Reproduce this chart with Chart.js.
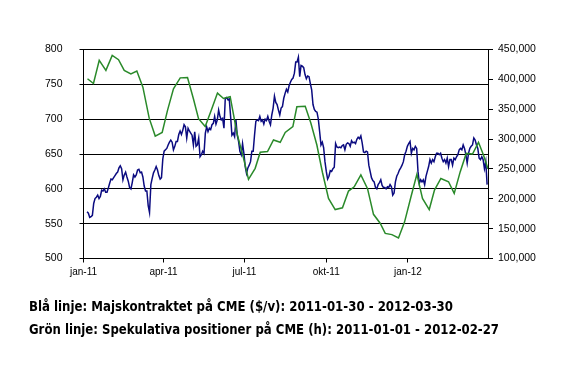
<!DOCTYPE html>
<html>
<head>
<meta charset="utf-8">
<script src="https://cdn.jsdelivr.net/npm/chart.js@4.4.1/dist/chart.umd.min.js"></script>
<style>
  html, body { margin: 0; padding: 0; background: #fff; }
  #wrap { position: relative; width: 571px; height: 371px; overflow: hidden; }
  #c { position: absolute; left: 0; top: 0; }
  .cap { position: absolute; left: 29px; white-space: nowrap; font-family: "Liberation Sans Narrow", "DejaVu Sans Condensed", "Liberation Sans", sans-serif; font-weight: bold; font-size: 14px; line-height: 14px; color: #000; transform-origin: 0 0; }
</style>
</head>
<body>
<div id="wrap">
  <canvas id="c" width="571" height="371"></canvas>
  <div class="cap" id="cap1" data-w="424" style="top:299px">Blå linje: Majskontraktet på CME ($/v): 2011-01-30 - 2012-03-30</div>
  <div class="cap" id="cap2" data-w="470" style="top:321.5px">Grön linje: Spekulativa positioner på CME (h): 2011-01-01 - 2012-02-27</div>
</div>
<script>
// x axis: days since 2011-01-01
const xTickDays = [0, 90, 181, 273, 365];
const xTickLabels = ['jan-11', 'apr-11', 'jul-11', 'okt-11', 'jan-12'];
const xMaxDay = 455;

// Blue line: corn contract on CME ($/bushel), daily, evenly spaced from blueStartDay to blueEndDay
const blueStartDay = 4;
const blueEndDay = 454;
const blueValues = [
  567, 565, 559, 560, 562, 579, 586, 588, 591, 586, 589, 598, 597, 600, 595, 595, 601, 608, 614, 613,
  616, 619, 622, 624, 630, 633, 629, 613, 620, 624, 617, 611, 602, 600, 609, 620, 617, 620, 627, 628,
  623, 624, 617, 604, 597, 597, 576, 566, 606, 615, 623, 627, 632, 627, 619, 614, 616, 643, 654, 656,
  658, 663, 667, 670, 667, 656, 661, 668, 668, 678, 683, 678, 684, 692,
  689, 673, 687, 683, 680, 677, 663, 682, 661, 663, 673, 646, 649, 654, 651, 680, 689, 682, 687, 685,
  692, 694, 704, 693, 699, 713, 704, 699, 701, 687, 730, 731, 728, 729, 704, 677, 680, 675, 699, 677,
  668, 654, 649, 665, 651, 632, 622, 630, 634, 639, 654, 654, 677, 697, 699, 698, 704, 697, 699, 693,
  700, 698, 704, 697, 692, 706, 716, 733, 724, 721, 713, 706, 716, 718, 730, 737,
  743, 739, 748, 753, 757, 759, 766, 782, 782, 789, 761, 777, 776, 774, 764, 758, 762, 761, 751, 742,
  721, 714, 711, 710, 700, 682, 663, 667, 659, 639, 625, 614, 618, 626, 625, 629, 631, 665, 660, 659,
  660, 659, 662, 663, 656, 664, 666, 665, 661, 669, 666, 667, 665, 671, 674, 672, 676, 666, 653, 652,
  654, 653, 634, 625, 616, 612, 610, 602, 600, 606, 609, 613, 605, 602, 602,
  600, 603, 602, 606, 603, 591, 594, 610, 618, 622, 627, 630, 634, 639, 649, 654, 661, 665, 668, 651,
  658, 656, 661, 658, 625, 608, 613, 610, 613, 606, 618, 625, 632, 642, 637, 642, 639, 646, 651, 651,
  649, 651, 644, 639, 642, 637, 644, 632, 642, 642, 634, 644, 642, 646, 649, 656, 658, 656, 663, 658,
  649, 637, 651, 658, 661, 663, 673, 670, 663, 658, 644, 642, 646, 642, 629, 639, 606
];

// Green line: speculative positions on CME (contracts), weekly
const greenDays = [
  4.5, 11.2, 17.7, 25.2, 32.3, 39.4, 45.8, 53.3, 60, 66.8,
  73.9, 80.7, 88.5, 94.5, 101.2, 108.8, 117, 123.7, 129.4, 136.9,
  143.6, 150.7, 157.5, 165, 172.6, 180, 185.6, 193.1, 198.8, 207,
  213.7, 221.3, 226.9, 235.5, 240, 249.4, 255.8, 262.5, 268.8, 275.6,
  283.1, 291.3, 298.1, 304.5, 312, 319.5, 326.2, 333.7, 339.4, 346.9,
  354.3, 361.1, 368.3, 375, 381.3, 388.9, 394.8, 402, 410.6, 417,
  423.7, 430.5, 437.6, 444.3, 450, 455
];
const greenValues = [
  401000, 393000, 432000, 415000, 440000, 433000, 415000, 409000, 414000, 387000,
  335000, 305000, 311000, 348000, 384000, 402500, 403000, 367000, 334000, 321000,
  348000, 377000, 368000, 371000, 310000, 268000, 232500, 251000, 278000, 279000,
  298500, 294600, 311000, 321000, 354000, 355000, 326500, 290000, 244000, 200600,
  182000, 185000, 213000, 220000, 240000, 217000, 174000, 159000, 142000, 140000,
  134500, 161000, 203000, 241000, 200600, 182000, 214600, 234000, 228500, 209000,
  245000, 276000, 275000, 294600, 273000, 250000
];

// axis ranges / ticks
const leftMin = 500, leftMax = 800, leftStep = 50;
const rightMin = 100000, rightMax = 450000, rightStep = 50000;

const blueStep = (blueEndDay - blueStartDay) / (blueValues.length - 1);
const blueData = blueValues.map((v, i) => ({ x: blueStartDay + i * blueStep, y: v }));
const greenData = greenValues.map((v, i) => ({ x: greenDays[i], y: v }));

Chart.defaults.font.family = "'Liberation Sans', Arial, sans-serif";
Chart.defaults.font.size = 10;
Chart.defaults.color = '#000';

new Chart(document.getElementById('c'), {
  type: 'line',
  data: {
    datasets: [
      { label: 'Majs', data: blueData, yAxisID: 'y', borderColor: '#0b0b80', borderWidth: 1.5, pointRadius: 0, tension: 0, order: 2 },
      { label: 'Spek', data: greenData, yAxisID: 'y2', borderColor: '#2a8a2a', borderWidth: 1.5, pointRadius: 0, tension: 0, order: 1 }
    ]
  },
  options: {
    responsive: false,
    animation: false,
    devicePixelRatio: 1,
    layout: { padding: { left: 0, right: 0, top: 49.5, bottom: 92.5 } },
    plugins: { legend: { display: false }, tooltip: { enabled: false } },
    scales: {
      x: {
        type: 'linear', min: 0, max: xMaxDay,
        afterBuildTicks: (s) => { s.ticks = xTickDays.map(v => ({ value: v })); },
        afterFit: (s) => { s.height = 20; },
        ticks: { autoSkip: false, maxRotation: 0, padding: 4, font: { size: 10 },
          callback: (v) => { const i = xTickDays.indexOf(v); return i >= 0 ? xTickLabels[i] : ''; } },
        grid: { drawOnChartArea: false, drawTicks: true, tickLength: 4, color: '#000', lineWidth: 1 },
        border: { display: true, color: '#000', width: 1 }
      },
      y: {
        position: 'left', min: leftMin, max: leftMax,
        afterFit: (s) => { s.width = 83.5; },
        ticks: { stepSize: leftStep, padding: 17, font: { size: 10.5 } },
        grid: { color: '#000', lineWidth: 1, drawTicks: true, tickLength: 4 },
        border: { display: true, color: '#000', width: 1 }
      },
      y2: {
        position: 'right', min: rightMin, max: rightMax,
        afterFit: (s) => { s.width = 83; },
        ticks: { stepSize: rightStep, padding: 5, font: { size: 10.5 },
          callback: (v) => v.toLocaleString('en-US') },
        grid: { drawOnChartArea: false, drawTicks: true, tickLength: 5, color: '#000', lineWidth: 1 },
        border: { display: true, color: '#000', width: 1 }
      }
    }
  }
});

document.querySelectorAll('.cap').forEach(el => {
  const w = el.getBoundingClientRect().width;
  const target = parseFloat(el.dataset.w);
  el.style.transform = 'scaleX(' + (target / w) + ')';
});
</script>
</body>
</html>
